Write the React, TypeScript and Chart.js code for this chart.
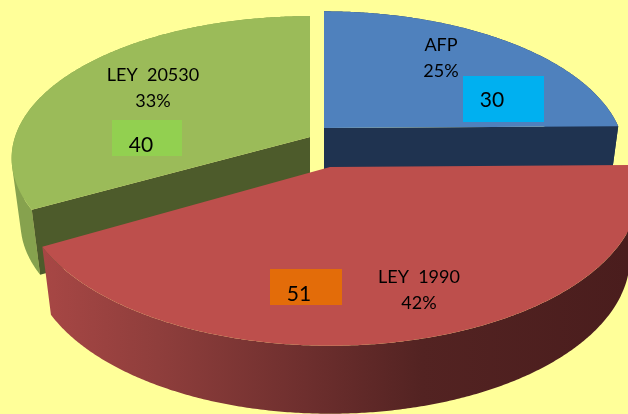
import React, { useEffect, useRef } from "react";
import { Chart, registerables } from "chart.js";

Chart.register(...registerables);

const categories = ["AFP", "LEY  1990", "LEY  20530"];
const values = [30, 51, 40];
const topColors = ["#4f81bd", "#bd4f4c", "#9bbb59"];
const wallColors = ["#1f3350", "", "#4d5b2b"];
const rimColors = ["#1f3350", "", "#86a24e"];
const boxColors = ["#00b0f0", "#e36c09", "#92d050"];

// Per-slice 3D look: explode offset from the pie centre, projected radii, perspective, extrusion
const views = [
  { dx: 10, dy: -79, rx: 295, ry: 140, t: 0.2, depth: 65 },
  { dx: 16, dy: -40, rx: 306, ry: 153, t: 0.144, depth: 68 },
  { dx: -4, dy: -70, rx: 295, ry: 139, t: 0.15, depth: 65 },
];
const labelPlaces = [
  { x: 441, y1: 51, y2: 77, box: [463, 76, 81, 46], vx: 492, vy: 107 },
  { x: 419, y1: 283, y2: 309, box: [270, 269, 72, 36], vx: 299, vy: 301 },
  { x: 153, y1: 81, y2: 107, box: [112, 120, 70, 36], vx: 141, vy: 152 },
];
const SHRINK = 0.97;
const FONT = "Lato, sans-serif";

const pie3d = {
  id: "pie3d",
  beforeDatasetDraw(chart: any) {
    const { ctx, width } = chart;
    const arcs = chart.getDatasetMeta(0).data;
    const order = [2, 0, 1];
    order.forEach((i) => {
      const el = arcs[i];
      const v = views[i];
      const k = el.outerRadius / 207;
      const cx = el.x + v.dx * k;
      const cy = el.y + v.dy * k;
      const project = (angle: number, lower: boolean) => {
        const th = angle + Math.PI / 2;
        const u = Math.sin(th);
        const w = -Math.cos(th);
        const den = 1 - v.t * w;
        const px = ((v.rx * k * u) / den) * (lower ? SHRINK : 1);
        const py = (v.ry * k * w) / den + (lower ? v.depth * k : 0);
        return [cx + px, cy + py];
      };
      const start = el.startAngle;
      const end = el.endAngle;
      const n = Math.max(2, Math.ceil((end - start) / 0.008));
      const rim = (lower: boolean) => {
        const pts: number[][] = [];
        for (let s = 0; s <= n; s++) pts.push(project(start + ((end - start) * s) / n, lower));
        return pts;
      };
      const poly = (pts: number[][], fill: any) => {
        ctx.beginPath();
        pts.forEach((p, idx) => (idx ? ctx.lineTo(p[0], p[1]) : ctx.moveTo(p[0], p[1])));
        ctx.closePath();
        ctx.fillStyle = fill;
        ctx.fill();
      };
      const upper = rim(false);
      const lower = rim(true);
      let rimFill: any = rimColors[i];
      if (!rimFill) {
        const g = ctx.createLinearGradient(40, 0, width, 0);
        g.addColorStop(0, "#a84745");
        g.addColorStop(0.2, "#8f3e3c");
        g.addColorStop(0.45, "#6e2f2e");
        g.addColorStop(0.65, "#532322");
        g.addColorStop(1, "#4a1d1d");
        rimFill = g;
      }
      // the side surface is swept as quads in one path, so its silhouette is tangent and seamless
      ctx.beginPath();
      for (let s = 0; s < n; s++) {
        const [a, b, c, d] = [upper[s], upper[s + 1], lower[s + 1], lower[s]];
        const area =
          (b[0] - a[0]) * (c[1] - a[1]) - (b[1] - a[1]) * (c[0] - a[0]);
        const q = area >= 0 ? [a, b, c, d] : [d, c, b, a];
        ctx.moveTo(q[0][0], q[0][1]);
        ctx.lineTo(q[1][0], q[1][1]);
        ctx.lineTo(q[2][0], q[2][1]);
        ctx.lineTo(q[3][0], q[3][1]);
        ctx.closePath();
      }
      ctx.fillStyle = rimFill;
      ctx.fill();
      if (wallColors[i]) {
        const cUp = [cx, cy];
        const cLow = [cx, cy + v.depth * k];
        poly([cUp, upper[0], lower[0], cLow], wallColors[i]);
        poly([cUp, upper[n], lower[n], cLow], wallColors[i]);
      }
      poly([[cx, cy], ...upper], topColors[i]);
    });
    return false;
  },
  afterDraw(chart: any) {
    const { ctx } = chart;
    const total = values.reduce((a, b) => a + b, 0);
    ctx.save();
    ctx.textAlign = "center";
    ctx.textBaseline = "alphabetic";
    categories.forEach((name, i) => {
      const p = labelPlaces[i];
      ctx.fillStyle = boxColors[i];
      ctx.fillRect(p.box[0], p.box[1], p.box[2], p.box[3]);
      ctx.fillStyle = "#000000";
      ctx.font = `18px ${FONT}`;
      ctx.fillText(name, p.x, p.y1);
      ctx.fillText(`${Math.round((values[i] / total) * 100)}%`, p.x, p.y2);
      ctx.font = `21px ${FONT}`;
      ctx.fillText(String(values[i]), p.vx, p.vy);
    });
    ctx.restore();
  },
};

export default function App() {
  const ref = useRef<HTMLCanvasElement | null>(null);
  useEffect(() => {
    document.body.style.margin = "0";
    document.body.style.background = "#ffff99";
    const chart = new Chart(ref.current as HTMLCanvasElement, {
      type: "pie",
      data: {
        labels: categories,
        datasets: [{ data: values, backgroundColor: topColors, borderWidth: 0 }],
      },
      options: {
        animation: false,
        responsive: false,
        layout: { padding: 0 },
        plugins: { legend: { display: false }, tooltip: { enabled: false } },
      },
      plugins: [pie3d],
    } as any);
    return () => chart.destroy();
  }, []);
  return (
    <div style={{ width: 628, height: 414, background: "#ffff99", overflow: "hidden" }}>
      <canvas ref={ref} width={628} height={414} style={{ display: "block" }} />
    </div>
  );
}
